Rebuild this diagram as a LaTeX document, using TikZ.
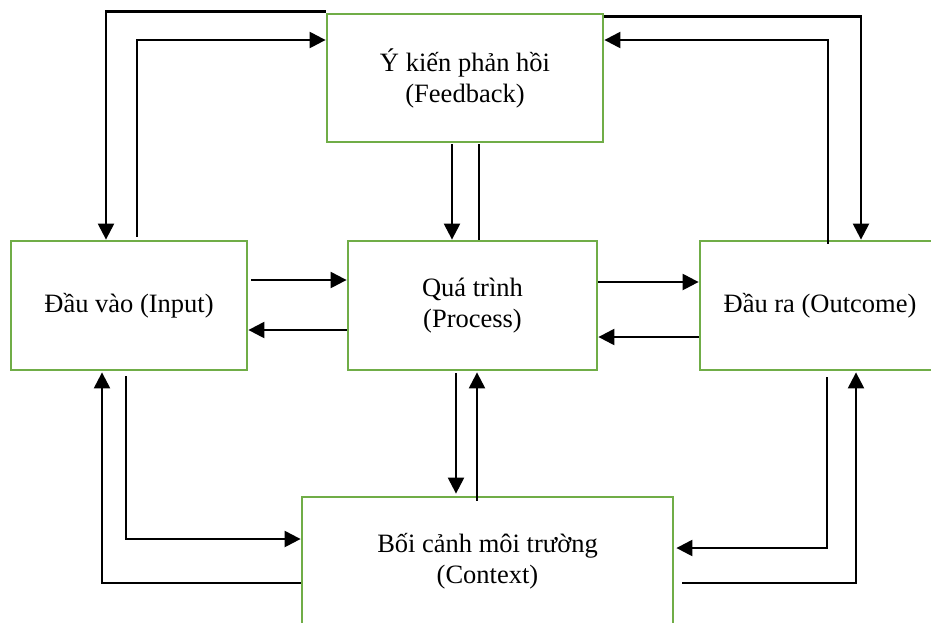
\documentclass[tikz,border=0pt]{standalone}
\usepackage{fontspec}
\setmainfont{Liberation Serif}
\usetikzlibrary{arrows.meta}
\definecolor{boxgreen}{RGB}{112,173,71}
\tikzset{
  box/.style={draw=boxgreen, line width=2.8pt, fill=white, align=center,
    font=\fontsize{26.5}{31}\selectfont, inner sep=0pt},
  arr/.style={draw=black, line width=2.3pt,
    -{Triangle[length=16pt,width=16pt]}},
  ln/.style={draw=black, line width=2.3pt},
}
\begin{document}
\begin{tikzpicture}[x=1pt,y=-1pt]
\clip (0,0) rectangle (931,622);
\fill[white] (0,0) rectangle (931,622);

\node[box, minimum width=276pt, minimum height=128pt] (fb) at (465,78)
  {Ý kiến phản hồi\\(Feedback)};
\node[box, minimum width=236pt, minimum height=129pt] (in) at (129,305.5)
  {Đầu vào (Input)};
\node[box, minimum width=249pt, minimum height=129pt] (pr) at (472.5,305.5)
  {Quá trình\\(Process)};
\node[box, minimum width=240pt, minimum height=129pt] (out) at (820,305.5)
  {Đầu ra (Outcome)};
\node[box, minimum width=371pt, minimum height=129pt] (ctx) at (487.5,561.5)
  {Bối cảnh môi trường\\(Context)};

% Feedback <-> Input
\draw[arr] ([yshift=1pt]fb.north west) -| ([xshift=-23pt]in.north);
\draw[arr] ([xshift=8pt,yshift=3pt]in.north) |- ([yshift=38pt]fb.west);

% Feedback <-> Outcome
\draw[arr] ([yshift=-4pt]fb.north east) -| ([xshift=41pt]out.north);
\draw[arr] ([xshift=8pt,yshift=-4pt]out.north) |- ([yshift=38pt]fb.east);

% Feedback <-> Process
\draw[arr] ([xshift=-13pt,yshift=-1pt]fb.south) -- ([xshift=-13pt]fb.south |- pr.north);
\draw[ln] ([xshift=14pt,yshift=-1pt]fb.south) -- ([xshift=14pt]fb.south |- pr.north);

% Input <-> Process
\draw[arr] ([xshift=3pt,yshift=25.5pt]in.east) -- ([yshift=25.5pt]in.east -| pr.west);
\draw[arr] ([yshift=-24.5pt]pr.west) -- ([yshift=-24.5pt]pr.west -| in.east);

% Process <-> Outcome
\draw[arr] ([yshift=23.5pt]pr.east) -- ([yshift=23.5pt]pr.east -| out.west);
\draw[arr] ([yshift=-31.5pt]out.west) -- ([yshift=-31.5pt]out.west -| pr.east);

% Process <-> Context
\draw[arr] ([xshift=-16.5pt,yshift=-2pt]pr.south) -- ([xshift=-16.5pt,yshift=2pt]pr.south |- ctx.north);
\draw[arr] ([xshift=4.5pt,yshift=-5pt]pr.south |- ctx.north) -- ([xshift=4.5pt,yshift=-1pt]pr.south);

% Input <-> Context
\draw[arr] ([xshift=-3pt,yshift=-5pt]in.south) |- ([yshift=22.5pt]ctx.west);
\draw[arr] ([yshift=-21.5pt]ctx.west) -| ([xshift=-27pt,yshift=-1pt]in.south);

% Outcome <-> Context
\draw[arr] ([xshift=7pt,yshift=-6pt]out.south) |- ([xshift=2pt,yshift=13.5pt]ctx.east);
\draw[arr] ([xshift=8pt,yshift=-21.5pt]ctx.east) -| ([xshift=36pt,yshift=-1pt]out.south);
\end{tikzpicture}
\end{document}
